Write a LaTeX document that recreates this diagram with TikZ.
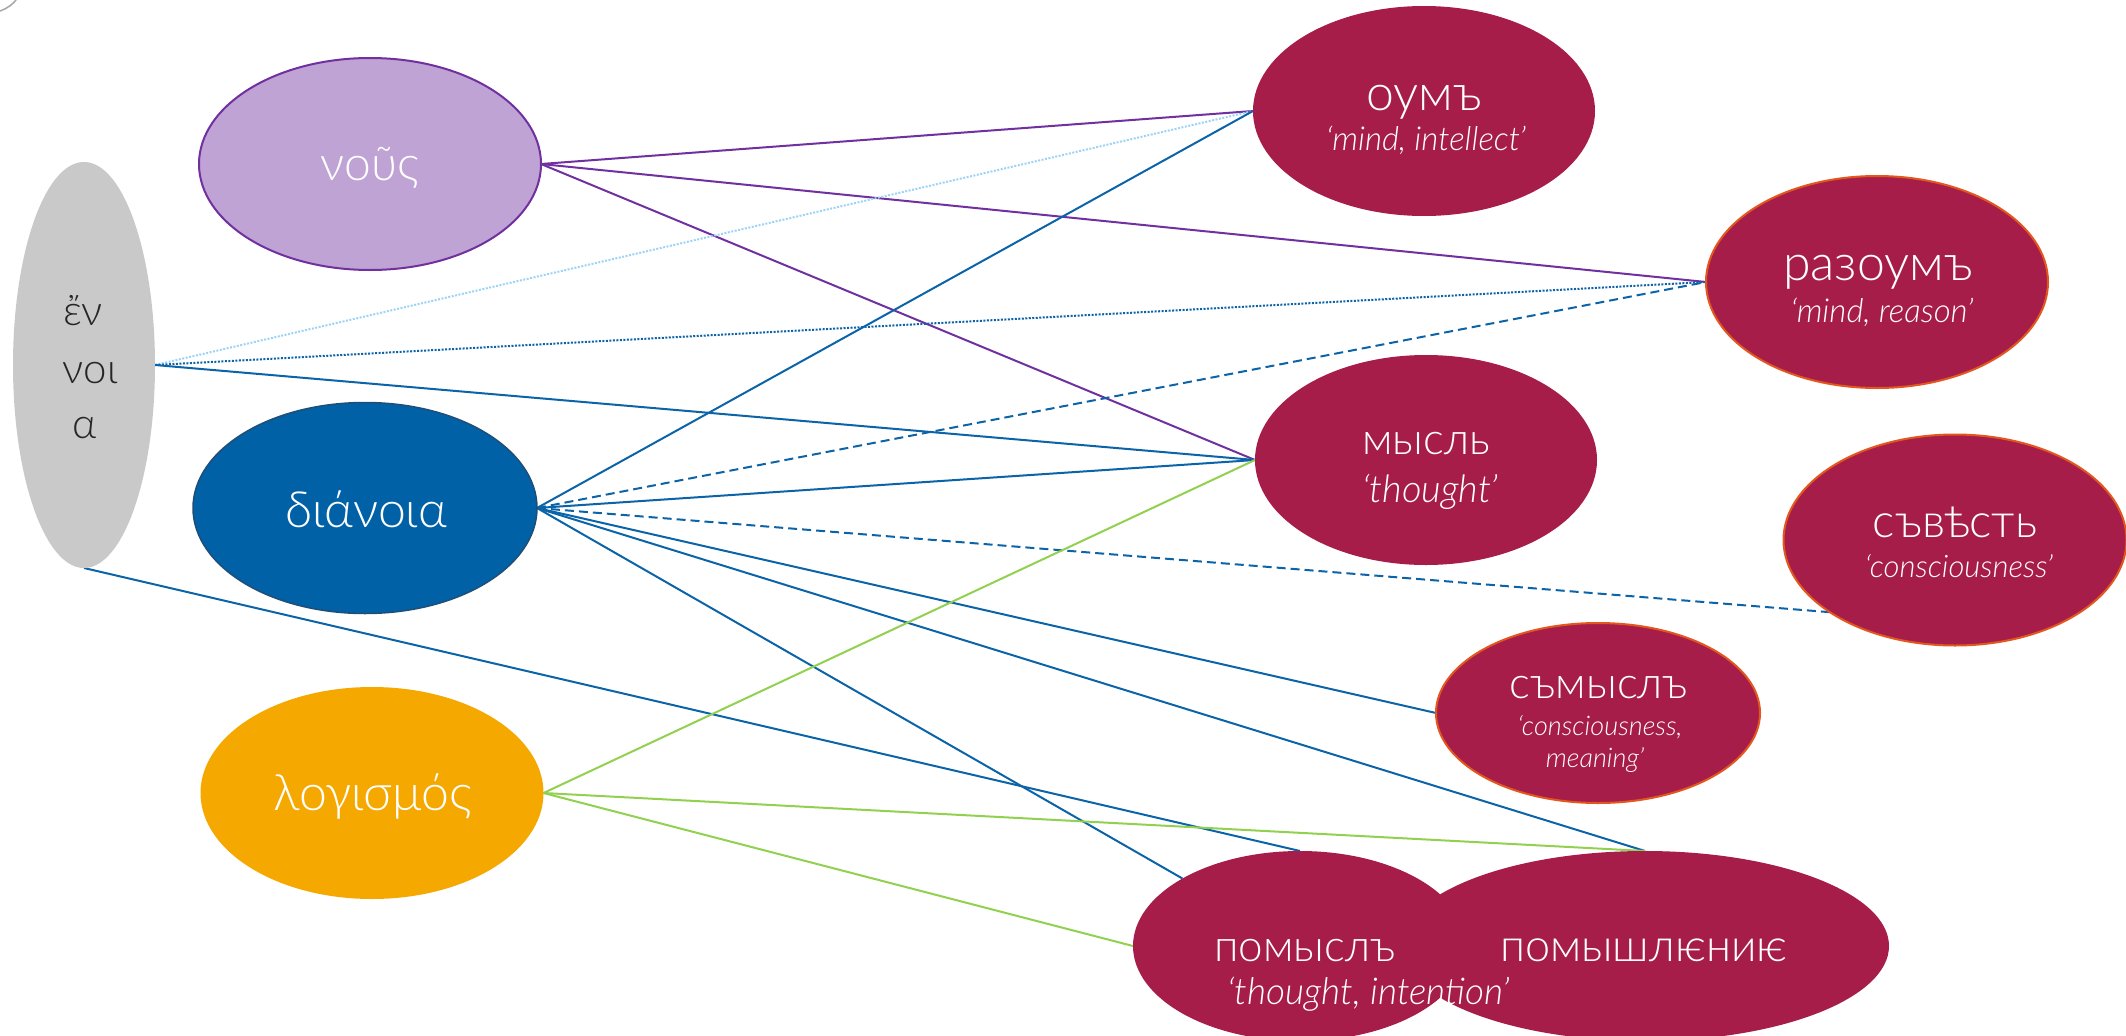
\documentclass[tikz,border=0pt]{standalone}
\usepackage{fontspec}
\setmainfont{Lato}[UprightFont={* Light}, ItalicFont={* Light Italic}, BoldFont={* Regular}]
\usetikzlibrary{shapes.geometric}
\definecolor{crimson}{HTML}{A71D4A}
\definecolor{orangeb}{HTML}{E2571E}
\definecolor{lilac}{HTML}{BFA3D4}
\definecolor{purp}{HTML}{7030A0}
\definecolor{diablue}{HTML}{0061A6}
\definecolor{diaborder}{HTML}{1F4E79}
\definecolor{logor}{HTML}{F5A800}
\definecolor{ennoiag}{HTML}{C9C9C9}
\definecolor{lnblue}{HTML}{0B63A8}
\definecolor{ltblue}{HTML}{9DD3F5}
\definecolor{lngreen}{HTML}{92D050}
\pgfdeclarelayer{background}
\pgfsetlayers{background,main}
\tikzset{
  ell/.style={ellipse, inner sep=0pt, outer sep=0pt},
  redell/.style={ell, fill=crimson},
  redellb/.style={ell, fill=crimson, draw=orangeb, line width=2pt},
  wtxt/.style={anchor=base, inner sep=0pt, text=white},
  btxt/.style={anchor=base, inner sep=0pt, text=black!85},
  glossA/.style={wtxt, font=\fontsize{33}{38}\selectfont\itshape},
  lnP/.style={draw=purp, line width=2pt},
  lnB/.style={draw=lnblue, line width=2pt},
  lnBdash/.style={draw=lnblue, line width=2pt, dash pattern=on 9pt off 5pt},
  lnBdot/.style={draw=lnblue, line width=2pt, dash pattern=on 2pt off 1.5pt},
  lnLdot/.style={draw=ltblue, line width=2pt, dash pattern=on 2pt off 1.5pt},
  lnG/.style={draw=lngreen, line width=2pt},
}
\begin{document}
\begin{tikzpicture}[x=1pt, y=-1pt]
\useasboundingbox (0,0) rectangle (2126,1036);
% logo fragment
\draw[gray!70, line width=1.5pt] (0,11) .. controls (8,8) and (13,4) .. (16,0);
% left nodes
\node[ell, fill=ennoiag, minimum width=142pt, minimum height=406pt] (enn) at (84,365) {};
\node[btxt, font=\fontsize{42}{48}\selectfont] (ennA) at (83,325) {ἔν};
\node[btxt, font=\fontsize{42}{48}\selectfont] (ennB) at (90,383) {νοι};
\node[btxt, font=\fontsize{42}{48}\selectfont] (ennC) at (85,438) {α};

\node[ell, fill=lilac, draw=purp, line width=2pt, minimum width=342pt, minimum height=212pt] (nous) at (370,164) {};
\node[wtxt, font=\fontsize{48}{56}\selectfont] (nousT) at (370,180) {νοῦς};

\node[ell, fill=diablue, draw=diaborder, line width=1.5pt, minimum width=344pt, minimum height=211pt] (dia) at (365,508) {};
\node[wtxt, font=\fontsize{50}{58}\selectfont] (diaT) at (366,527) {διάνοια};

\node[ell, fill=logor, minimum width=343pt, minimum height=212pt] (log) at (372,793) {};
\node[wtxt, font=\fontsize{50}{58}\selectfont] (logT) at (373,810) {λογισμός};

% right nodes
\node[redell, minimum width=342pt, minimum height=210pt] (um) at (1424,111) {};
\node[wtxt, font=\fontsize{50}{58}\selectfont] (umT) at (1424,110) {оумъ};
\node[glossA] (umG) at (1426,150) {‘mind, intellect’};

\node[redellb, minimum width=342pt, minimum height=212pt] (razum) at (1877,282) {};
\node[wtxt, font=\fontsize{50}{58}\selectfont] (razumT) at (1878,280) {разоумъ};
\node[glossA] (razumG) at (1882,322) {‘mind, reason’};

\node[redell, minimum width=342pt, minimum height=210pt] (mysl) at (1426,460) {};
\node[wtxt, font=\fontsize{44}{52}\selectfont] (myslT) at (1426,454) {мысль};
\node[glossA, font=\fontsize{38}{44}\selectfont\itshape] (myslG) at (1430,502) {‘thought’};

\node[redellb, minimum width=343pt, minimum height=211pt] (sved) at (1955,540) {};
\node[wtxt, font=\fontsize{47}{54}\selectfont] (svedT) at (1955,537) {съвѣсть};
\node[glossA, font=\fontsize{31}{36}\selectfont\itshape] (svedG) at (1959,577) {‘consciousness’};

\node[redellb, minimum width=324pt, minimum height=180pt] (smysl) at (1598,713) {};
\node[wtxt, font=\fontsize{44}{52}\selectfont] (smyslT) at (1599,698) {съмыслъ};
\node[glossA, font=\fontsize{27}{32}\selectfont\itshape] (smyslG1) at (1600,735) {‘consciousness,};
\node[glossA, font=\fontsize{27}{32}\selectfont\itshape] (smyslG2) at (1595,767) {meaning’};

\node[redell, minimum width=488pt, minimum height=190pt] (pomysh) at (1645,946) {};
\node[wtxt, font=\fontsize{45}{52}\selectfont] (pomyshT) at (1644,961) {помышлѥниѥ};

\node[redell, minimum width=334pt, minimum height=190pt] (pomysl) at (1300,946) {};
\node[wtxt, font=\fontsize{44}{52}\selectfont] (pomyslT) at (1305,961) {помыслъ};
\node[glossA, font=\fontsize{37}{42}\selectfont\itshape] (pomyslG) at (1369,1004) {‘thought, intention’};

% connectors
\begin{pgfonlayer}{background}
\draw[lnP] (nous.east) -- (um.west);
\draw[lnP] (nous.east) -- (razum.west);
\draw[lnP] (nous.east) -- (mysl.west);
\draw[lnLdot] (enn.east) -- (um.west);
\draw[lnBdot] (enn.east) -- (razum.west);
\draw[lnB] (enn.east) -- (mysl.west);
\draw[lnB] (enn.south) -- (pomysl.north);
\draw[lnB] (dia.east) -- (um.west);
\draw[lnBdash] (dia.east) -- (razum.west);
\draw[lnB] (dia.east) -- (mysl.west);
\draw[lnBdash] (dia.east) -- (sved.210);
\draw[lnB] (dia.east) -- (smysl.west);
\draw[lnB] (dia.east) -- (pomysh.north);
\draw[lnB] (dia.east) -- (pomysl);
\draw[lnG] (log.east) -- (mysl.west);
\draw[lnG] (log.east) -- (pomysh.north);
\draw[lnG] (log.east) -- (pomysl.west);
\end{pgfonlayer}
\end{tikzpicture}
\end{document}
